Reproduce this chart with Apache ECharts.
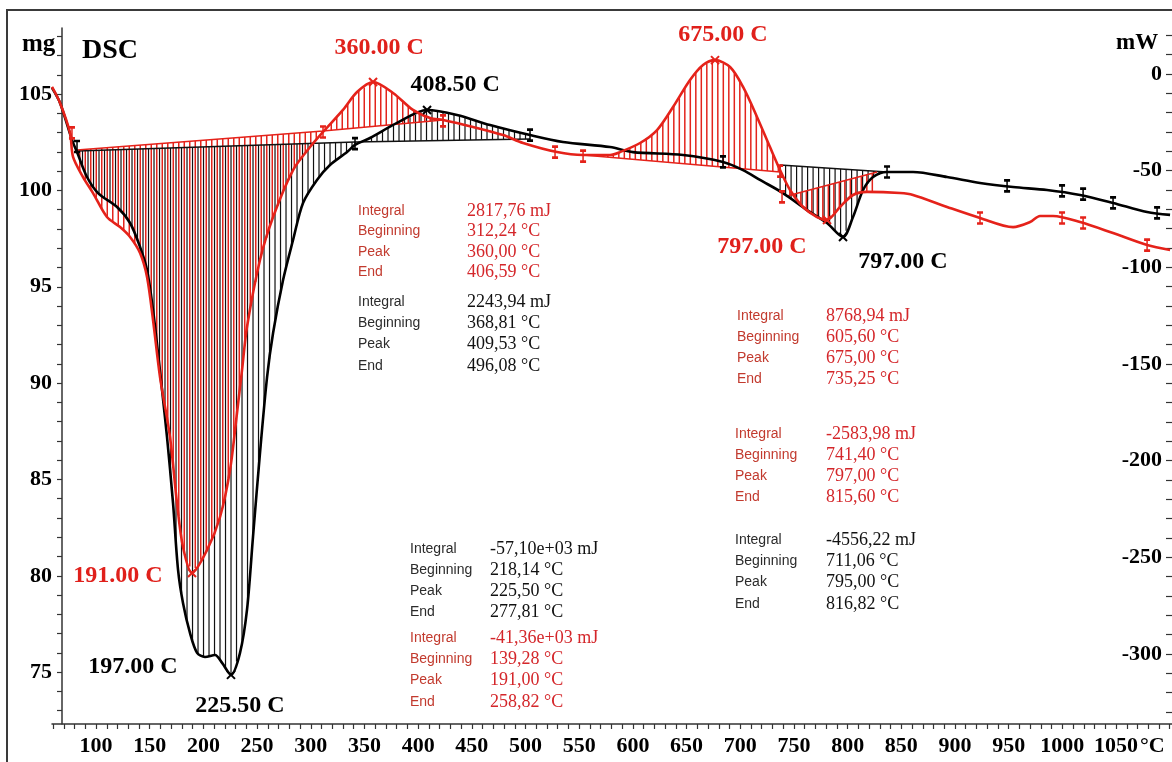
<!DOCTYPE html>
<html><head><meta charset="utf-8">
<script src="https://cdn.jsdelivr.net/npm/echarts@6/dist/echarts.min.js"></script>
<style>html,body{margin:0;padding:0;background:#fff}#c{width:1172px;height:762px}</style>
</head><body><div id="c"></div>
<script>
// ---------- DATA ----------
// DSC curves: [temperature °C, heat flow mW]
const blackCurve = [[59.0,-7.2],[66.5,-15.0],[77.6,-34.1],[82.3,-40.4],[91.6,-53.3],[101.9,-61.6],[119.6,-68.8],[131.7,-77.1],[141.0,-89.5],[147.5,-101.4],[153.1,-122.1],[157.7,-144.3],[161.5,-163.5],[166.1,-187.8],[171.7,-221.9],[176.4,-256.6],[181.0,-273.7],[187.5,-289.2],[194.1,-299.5],[201.5,-301.6],[210.8,-300.6],[217.4,-304.7],[225.7,-310.9],[234.1,-299.5],[240.6,-277.3],[246.2,-239.5],[252.7,-196.1],[259.3,-156.8],[264.9,-134.0],[274.2,-106.6],[283.5,-85.9],[292.8,-66.7],[305.8,-54.8],[317.9,-47.1],[333.8,-40.4],[341.2,-36.7],[355.2,-33.1],[380.3,-25.3],[408.3,-18.6],[436.2,-21.2],[467.0,-26.4],[504.2,-31.6],[534.9,-35.2],[578.7,-37.8],[600.1,-40.4],[646.7,-41.9],[683.9,-45.5],[702.6,-49.7],[718.4,-54.8],[739.8,-61.6],[762.2,-70.4],[780.8,-77.1],[795.7,-84.3],[805.0,-74.0],[814.4,-60.0],[823.7,-53.3],[836.7,-50.7],[860.9,-50.7],[892.6,-53.3],[923.3,-56.4],[954.1,-58.5],[985.7,-60.0],[1016.5,-62.6],[1047.2,-66.7],[1078.9,-71.4],[1100.3,-72.9]];
const redCurve = [[59.0,-6.7],[66.5,-15.0],[75.8,-30.5],[78.6,-42.9],[87.9,-53.3],[97.2,-61.6],[110.2,-74.0],[122.4,-79.2],[131.7,-84.3],[141.0,-92.6],[147.5,-105.0],[153.1,-127.3],[159.6,-156.8],[168.9,-187.8],[175.4,-221.9],[181.0,-244.7],[189.4,-258.2],[203.4,-246.3],[215.5,-229.2],[224.8,-204.9],[231.3,-175.4],[236.0,-153.1],[240.6,-130.9],[252.7,-96.2],[264.9,-74.0],[283.5,-49.7],[299.3,-37.8],[311.4,-30.0],[330.0,-18.6],[343.1,-9.3],[358.0,-4.1],[376.6,-9.8],[395.2,-18.6],[411.1,-22.8],[423.2,-23.8],[451.1,-27.4],[479.1,-31.6],[497.7,-35.7],[529.4,-40.4],[553.6,-41.9],[578.7,-41.9],[588.0,-40.4],[606.7,-35.7],[622.5,-29.0],[637.4,-17.1],[653.2,-3.1],[665.3,4.7],[676.5,7.2],[690.5,3.6],[702.6,-6.7],[715.6,-22.2],[727.7,-37.8],[737.1,-49.7],[746.4,-60.0],[758.5,-68.8],[771.5,-74.0],[780.8,-75.5],[792.9,-68.8],[805.0,-62.6],[818.1,-61.0],[848.8,-61.6],[860.9,-62.6],[892.6,-68.8],[923.3,-74.5],[954.1,-79.2],[969.9,-76.6],[979.2,-73.5],[991.3,-73.5],[1016.5,-76.6],[1047.2,-82.3],[1078.9,-88.5],[1100.3,-91.1]];
// integration baselines: [T0, W0, T1, W1]
const blackBaselines = [[82.3,-39.8,341.2,-35.2],[341.2,-35.2,504.2,-33.6],[737.1,-47.1,836.7,-50.7]];
const redBaselines = [[82.3,-39.3,311.4,-29.5],[311.4,-29.5,423.2,-23.8],[553.6,-41.9,737.1,-50.7],[743.6,-63.1,827.4,-50.7]];
// peaks
const peakPoints = [[189.4,-258.2],[225.7,-310.9],[201.5,-301.6],[358.0,-4.1],[408.3,-18.6],[676.5,7.2],[780.8,-75.5],[795.7,-84.3]];
const peakLabels = ['191.00 C','225.50 C','197.00 C','360.00 C','408.50 C','675.00 C','797.00 C','797.00 C'];
const peakIsRed = [true,false,false,true,false,true,true,false];
const peakHasMark = [true,true,false,true,true,true,true,true];
// integration limit / event markers
const redLimits = [[77.6,-30.5],[311.4,-30.0],[423.2,-24.3],[527.5,-40.4],[553.6,-42.5],[737.1,-50.2],[738.9,-63.6],[923.3,-74.5],[999.7,-74.5],[1019.3,-77.1],[1078.9,-88.5]];
const blackLimits = [[82.3,-37.5],[341.2,-36.0],[504.2,-31.6],[683.9,-45.5],[836.7,-50.7],[948.5,-57.9],[999.7,-60.5],[1019.3,-62.1],[1047.2,-66.7],[1088.2,-71.9]];
// axis ticks / labels
const xLabels = [100,150,200,250,300,350,400,450,500,550,600,650,700,750,800,850,900,950,1000,1050];
const xTicks = []; for (let v = 60; v <= 1100; v += 10) xTicks.push(v);
const mgLabels = [75,80,85,90,95,100,105];
const mgTicks = []; for (let v = 73; v <= 108; v += 1) mgTicks.push(v);
const mwLabels = [0,-50,-100,-150,-200,-250,-300];
const mwTicks = []; for (let v = 20; v >= -330; v -= 10) mwTicks.push(v);
// result tables
const statNames = ['Integral','Beginning','Peak','End'];
const statValues = [
  ['2817,76 mJ','312,24 °C','360,00 °C','406,59 °C'],
  ['2243,94 mJ','368,81 °C','409,53 °C','496,08 °C'],
  ['-57,10e+03 mJ','218,14 °C','225,50 °C','277,81 °C'],
  ['-41,36e+03 mJ','139,28 °C','191,00 °C','258,82 °C'],
  ['8768,94 mJ','605,60 °C','675,00 °C','735,25 °C'],
  ['-2583,98 mJ','741,40 °C','797,00 °C','815,60 °C'],
  ['-4556,22 mJ','711,06 °C','795,00 °C','816,82 °C']
];
const statIsRed = [true,false,false,true,true,true,false];

// ---------- LAYOUT / STYLE ----------
const RED = '#e5221a', BLACK = '#000';
const statLayout = [ // [labelX, valueX, firstRowY, rowGap]
  [358,467,211,20.5],[358,467,302,21.3],[410,490,549,21],[410,490,638,21.3],
  [737,826,316,21],[735,826,434,21],[735,826,540,21.3]
];
const peakOffsets = [[-74,3],[9,31],[-72,10],[6,-34],[28,-25],[8,-25],[-65,27],[60,25]];

function interp(curve, t) {
  for (let i = 0; i < curve.length - 1; i++) {
    if (t >= curve[i][0] && t <= curve[i + 1][0]) {
      const f = (t - curve[i][0]) / (curve[i + 1][0] - curve[i][0]);
      return curve[i][1] + f * (curve[i + 1][1] - curve[i][1]);
    }
  }
  return t < curve[0][0] ? curve[0][1] : curve[curve.length - 1][1];
}
function hatch(baselines, curve, color, width, phase, z) {
  return {
    type: 'custom', xAxisIndex: 0, yAxisIndex: 1, silent: true, z: z, clip: true,
    data: baselines, encode: { x: [0, 2], y: [1, 3] },
    renderItem(params, api) {
      const T0 = api.value(0), W0 = api.value(1), T1 = api.value(2), W1 = api.value(3);
      const p0 = api.coord([T0, W0]), p1 = api.coord([T1, W1]);
      const children = [];
      for (let px = p0[0] + phase; px <= p1[0]; px += 5.5) {
        const f = (px - p0[0]) / (p1[0] - p0[0]);
        const t = T0 + f * (T1 - T0);
        const wb = W0 + f * (W1 - W0);
        const wc = interp(curve, t);
        const a = api.coord([t, wb]), c = api.coord([t, wc]);
        children.push({ type: 'line', shape: { x1: a[0], y1: a[1], x2: c[0], y2: c[1] }, style: { stroke: color, lineWidth: width } });
      }
      return { type: 'group', children };
    }
  };
}
function baselineSeries(baselines, color) {
  const data = [];
  baselines.forEach(b => { data.push([b[0], b[1]], [b[2], b[3]], [null, null]); });
  return { type: 'line', xAxisIndex: 0, yAxisIndex: 1, data, showSymbol: false, silent: true, connectNulls: false, z: 3,
    lineStyle: { color, width: 1.6 } };
}
const serifBold = { fontFamily: 'Liberation Serif', fontWeight: 'bold', fontSize: 22, color: '#000' };

const graphics = [
  { type: 'rect', shape: { x: 7, y: 10, width: 1190, height: 790 }, style: { fill: 'none', stroke: '#3a3a3a', lineWidth: 2 }, silent: true },
  { type: 'text', x: 22, y: 45, style: { text: 'mg', font: 'bold 25px "Liberation Serif"', fill: '#000', verticalAlign: 'middle' } },
  { type: 'text', x: 82, y: 51, style: { text: 'DSC', font: 'bold 28px "Liberation Serif"', fill: '#000', verticalAlign: 'middle' } },
  { type: 'text', x: 1116, y: 43, style: { text: 'mW', font: 'bold 23px "Liberation Serif"', fill: '#000', verticalAlign: 'middle' } },
  { type: 'text', x: 1140, y: 746, style: { text: '°C', font: 'bold 22px "Liberation Serif"', fill: '#000', verticalAlign: 'middle' } }
];
statValues.forEach((vals, bi) => {
  const L = statLayout[bi];
  const red = statIsRed[bi];
  vals.forEach((v, ri) => {
    const y = L[2] + ri * L[3];
    graphics.push({ type: 'text', x: L[0], y, style: { text: statNames[ri], font: '14px "Liberation Sans"', fill: red ? '#c23a2e' : '#2b2b2b', verticalAlign: 'middle' } });
    graphics.push({ type: 'text', x: L[1], y, style: { text: v, font: '18px "Liberation Serif"', fill: red ? '#d4262a' : '#111', verticalAlign: 'middle' } });
  });
});

const xSym = 'path://M0 0L10 10M10 0L0 10';
const barSym = 'path://M5 0L5 12M1 0L9 0M1 12L9 12';
const peakData = peakPoints.map((p, i) => ({
  value: p,
  symbol: peakHasMark[i] ? xSym : 'circle',
  symbolSize: peakHasMark[i] ? 8 : 0.01,
  itemStyle: { opacity: 1, color: peakIsRed[i] ? RED : BLACK, borderColor: peakIsRed[i] ? RED : BLACK, borderWidth: peakHasMark[i] ? 2 : 0 },
  label: { show: true, position: 'inside', formatter: peakLabels[i], offset: peakOffsets[i],
    fontFamily: 'Liberation Serif', fontWeight: 'bold', fontSize: 24, color: peakIsRed[i] ? '#e0201b' : '#000', opacity: 1 }
}));

const option = {
  animation: false,
  backgroundColor: '#fff',
  grid: { left: 52, right: 0, top: 28, bottom: 38, containLabel: false },
  xAxis: {
    type: 'value', min: 59, max: 1102.1,
    axisLine: { show: true, onZero: false, lineStyle: { color: '#333', width: 1.5 } },
    axisTick: { show: true, customValues: xTicks, length: 5, inside: false, lineStyle: { color: '#333', width: 1.2 } },
    axisLabel: Object.assign({ customValues: xLabels, margin: 11, formatter: v => String(v) }, serifBold),
    splitLine: { show: false }
  },
  yAxis: [
    {
      type: 'value', position: 'left', min: 72.31, max: 108.43, offset: -10,
      axisLine: { show: true, onZero: false, lineStyle: { color: '#333', width: 1.5 } },
      axisTick: { show: true, customValues: mgTicks, length: 5, lineStyle: { color: '#333', width: 1.2 } },
      axisLabel: Object.assign({ customValues: mgLabels, margin: 10, formatter: v => String(v) }, serifBold),
      splitLine: { show: false }
    },
    {
      type: 'value', position: 'right', min: -336.3, max: 23.8,
      axisLine: { show: false, onZero: false },
      axisTick: { show: true, inside: true, customValues: mwTicks, length: 6, lineStyle: { color: '#333', width: 1.2 } },
      axisLabel: Object.assign({ inside: true, customValues: mwLabels, margin: 10, formatter: v => String(v) }, serifBold),
      splitLine: { show: false }
    }
  ],
  graphic: graphics,
  series: [
    hatch(blackBaselines, blackCurve, '#111', 1.2, 0, 2),
    hatch(redBaselines, redCurve, '#e3241c', 1.5, 2.75, 2),
    baselineSeries(blackBaselines, '#111'),
    baselineSeries(redBaselines, RED),
    { type: 'line', xAxisIndex: 0, yAxisIndex: 1, data: blackCurve, showSymbol: false, smooth: 0.3, z: 4, silent: true,
      lineStyle: { color: BLACK, width: 2.6, join: 'round' } },
    { type: 'line', xAxisIndex: 0, yAxisIndex: 1, data: redCurve, showSymbol: false, smooth: 0.3, z: 5, silent: true,
      lineStyle: { color: RED, width: 2.6, join: 'round' } },
    { type: 'scatter', xAxisIndex: 0, yAxisIndex: 1, data: redLimits, symbol: barSym, symbolSize: [6, 11], z: 6, silent: true,
      itemStyle: { opacity: 1, color: RED, borderColor: RED, borderWidth: 2 } },
    { type: 'scatter', xAxisIndex: 0, yAxisIndex: 1, data: blackLimits, symbol: barSym, symbolSize: [6, 11], z: 6, silent: true,
      itemStyle: { opacity: 1, color: BLACK, borderColor: BLACK, borderWidth: 2 } },
    { type: 'scatter', xAxisIndex: 0, yAxisIndex: 1, data: peakData, z: 7, silent: true }
  ]
};
const chart = echarts.init(document.getElementById('c'), null, { renderer: 'canvas' });
chart.setOption(option);
</script></body></html>
